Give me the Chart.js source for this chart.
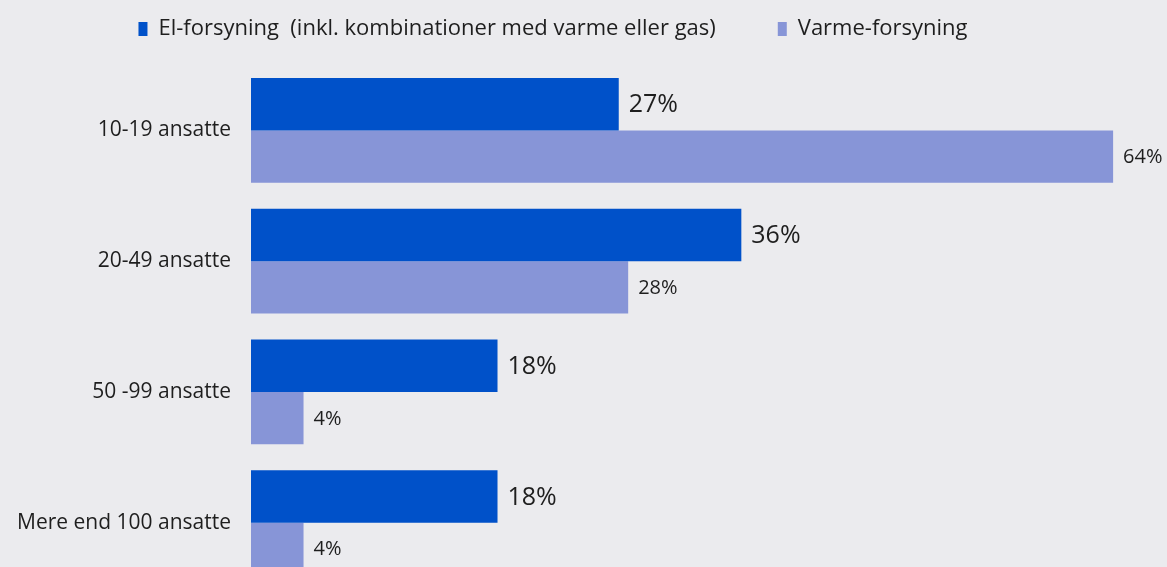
<!DOCTYPE html>
<html>
<head>
<meta charset="utf-8">
<script src="https://cdn.jsdelivr.net/npm/chart.js@4/dist/chart.umd.min.js"></script>
<style>
  html, body { margin: 0; padding: 0; background: #ebebee; overflow: hidden; }
  #wrap { position: relative; width: 1167px; height: 588px; }
</style>
</head>
<body>
<div id="wrap"><canvas id="barchart"></canvas></div>
<script>
var categories = ['10-19 ansatte', '20-49 ansatte', '50 -99 ansatte', 'Mere end 100 ansatte'];
var elValues = [27.3, 36.4, 18.3, 18.3];
var elLabels = ['27%', '36%', '18%', '18%'];
var varmeValues = [64, 28, 3.9, 3.9];
var varmeLabels = ['64%', '28%', '4%', '4%'];

// value labels to the right of each bar
var valueLabels = {
    id: 'valueLabels',
    afterDatasetsDraw: function(chart) {
        var ctx = chart.ctx;
        ctx.save();
        ctx.fillStyle = '#1e1e1e';
        ctx.textBaseline = 'middle';
        ctx.textAlign = 'left';
        chart.data.datasets.forEach(function(ds, i) {
            var meta = chart.getDatasetMeta(i);
            ctx.font = (i === 0 ? '25px' : '20px') + ' "Open Sans"';
            meta.data.forEach(function(bar, j) {
                ctx.fillText(ds.labelsText[j], bar.x + 10, bar.y + 1);
            });
        });
        ctx.restore();
    }
};

// extra space under the legend, and shift it a bit left
var legendGap = {
    id: 'legendGap',
    beforeInit: function(chart) {
        var fit = chart.legend.fit;
        chart.legend.fit = function() {
            fit.bind(chart.legend)();
            this.height += 15;
        };
    },
    afterLayout: function(chart) {
        chart.legend.right = 1106;
    }
};

var chart1 = document.getElementById('barchart');

var myChart1 = new Chart(chart1, {
    type: 'bar',
    data: {
        labels: categories,
        datasets: [{
            label: 'El-forsyning  (inkl. kombinationer med varme eller gas)',
            data: elValues,
            labelsText: elLabels,
            backgroundColor: '#0051c9',
            categoryPercentage: 0.8,
            barPercentage: 1.0
        }, {
            label: 'Varme-forsyning',
            data: varmeValues,
            labelsText: varmeLabels,
            backgroundColor: '#8795d7',
            categoryPercentage: 0.8,
            barPercentage: 1.0
        }]
    },
    options: {
        indexAxis: 'y',
        responsive: true,
        maintainAspectRatio: false,
        animation: false,
        layout: { padding: 0 },
        scales: {
            x: {
                display: false,
                min: 0,
                max: 68
            },
            y: {
                grid: { display: false, drawTicks: false },
                border: { display: false },
                ticks: {
                    padding: 20,
                    color: '#1e1e1e',
                    font: { family: 'Open Sans', size: 21 }
                },
                afterFit: function(scale) {
                    scale.width = 251;
                    scale.paddingTop = 0;
                    scale.paddingBottom = 0;
                }
            }
        },
        plugins: {
            legend: {
                display: true,
                position: 'top',
                labels: {
                    boxWidth: 9,
                    boxHeight: 14,
                    padding: 18,
                    color: '#1e1e1e',
                    font: { family: 'Open Sans', size: 22 },
                    generateLabels: function(chart) {
                        var items = Chart.defaults.plugins.legend.labels.generateLabels(chart);
                        items[0].text = items[0].text + '\u2003\u2003';
                        return items;
                    }
                }
            },
            tooltip: { enabled: false }
        }
    },
    plugins: [valueLabels, legendGap]
});
</script>
</body>
</html>
